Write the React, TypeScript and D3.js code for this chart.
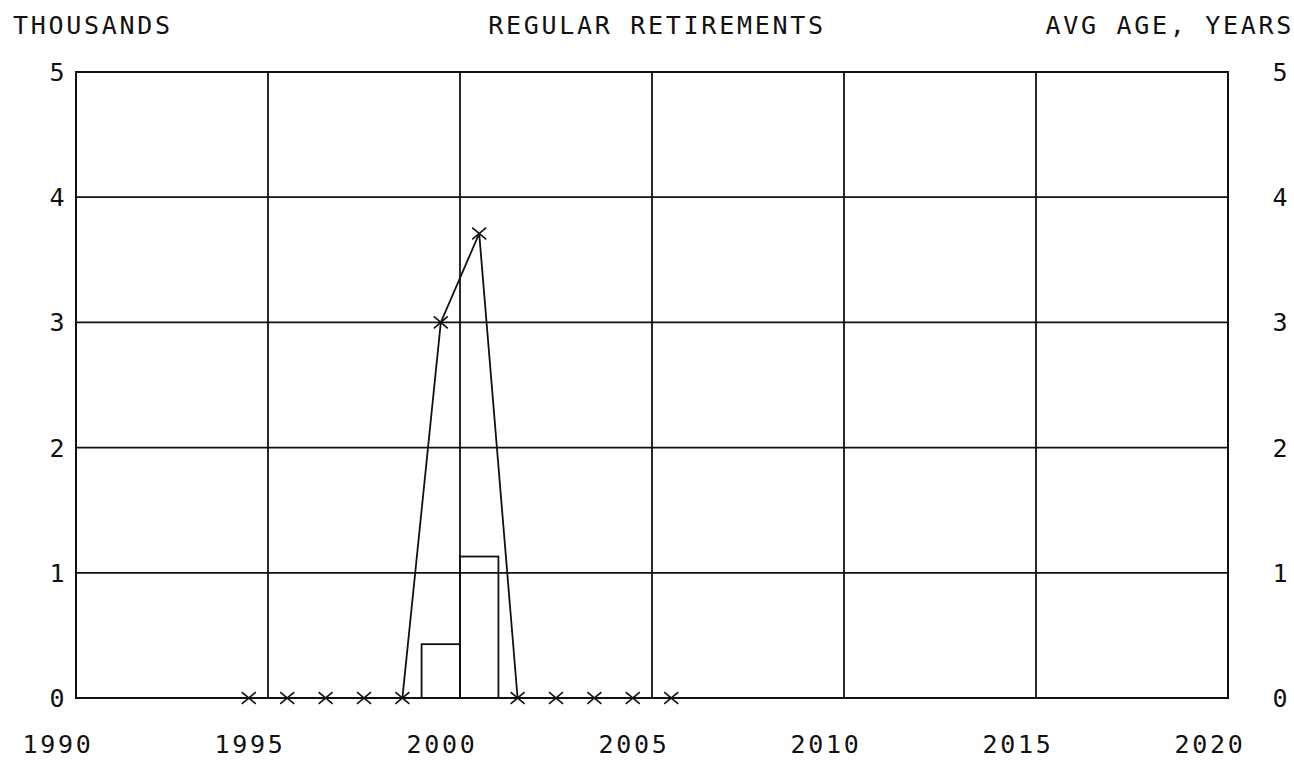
import React, { useEffect, useRef } from 'react';
import * as d3 from 'd3';

const years = [1995, 1996, 1997, 1998, 1999, 2000, 2001, 2002, 2003, 2004, 2005, 2006];
// thousands of regular retirements (bars)
const retirements = [0, 0, 0, 0, 0, 0.43, 1.13, 0, 0, 0, 0, 0];
// line with x markers
const avgAge = [0, 0, 0, 0, 0, 3.0, 3.71, 0, 0, 0, 0, 0];
const xTickLabels = [1990, 1995, 2000, 2005, 2010, 2015, 2020];
const yTickLabels = [0, 1, 2, 3, 4, 5];
const xGridYears = [1995.5, 2000.5, 2005.5, 2010.5, 2015.5];

const W = 1294;
const H = 760;
const margin = { left: 76, right: 66, top: 72, bottom: 62 };

const FONT = '"DejaVu Sans Mono", monospace';

export default function App() {
  const svgRef = useRef<SVGSVGElement>(null);

  useEffect(() => {
    if (svgRef.current === null) {
      return;
    }
    const svg = d3.select(svgRef.current);
    svg.selectAll('*').remove();

    const x = d3.scaleLinear().domain([1990.5, 2020.5]).range([margin.left, W - margin.right]);
    const y = d3.scaleLinear().domain([0, 5]).range([H - margin.bottom, margin.top]);

    svg.append('rect').attr('width', W).attr('height', H).attr('fill', '#fff');

    const txt = (sel: any) =>
      sel
        .attr('font-family', FONT)
        .attr('font-size', 25)
        .attr('letter-spacing', 2.7)
        .attr('fill', '#111');

    // titles
    svg.append('text').attr('x', 13).attr('y', 34).text('THOUSANDS').call(txt);
    svg.append('text').attr('x', 657).attr('y', 34).attr('text-anchor', 'middle').text('REGULAR RETIREMENTS').call(txt);
    svg.append('text').attr('x', 1294).attr('y', 34).attr('text-anchor', 'end').text('AVG AGE, YEARS').call(txt);

    // grid
    const grid = svg.append('g').attr('stroke', '#111').attr('stroke-width', 1.8);
    grid
      .selectAll('line.h')
      .data(yTickLabels.slice(1, -1))
      .join('line')
      .attr('x1', x.range()[0])
      .attr('x2', x.range()[1])
      .attr('y1', (d) => y(d))
      .attr('y2', (d) => y(d));
    grid
      .selectAll('line.v')
      .data(xGridYears)
      .join('line')
      .attr('x1', (d) => x(d))
      .attr('x2', (d) => x(d))
      .attr('y1', y(0))
      .attr('y2', y(5));

    // bars
    const bars = years.map((yr, i) => ({ yr, v: retirements[i] })).filter((d) => d.v > 0);
    svg
      .append('g')
      .selectAll('rect')
      .data(bars)
      .join('rect')
      .attr('x', (d) => x(d.yr - 0.5))
      .attr('width', (d) => x(d.yr + 0.5) - x(d.yr - 0.5))
      .attr('y', (d) => y(d.v))
      .attr('height', (d) => y(0) - y(d.v))
      .attr('fill', 'none')
      .attr('stroke', '#111')
      .attr('stroke-width', 1.8);

    // frame
    svg
      .append('rect')
      .attr('x', x.range()[0])
      .attr('y', y(5))
      .attr('width', x.range()[1] - x.range()[0])
      .attr('height', y(0) - y(5))
      .attr('fill', 'none')
      .attr('stroke', '#111')
      .attr('stroke-width', 2);

    // line + markers
    const pts = years.map((yr, i) => [yr, avgAge[i]] as [number, number]);
    const line = d3
      .line<[number, number]>()
      .x((d) => x(d[0]))
      .y((d) => y(d[1]));
    svg
      .append('path')
      .attr('d', line(pts))
      .attr('fill', 'none')
      .attr('stroke', '#111')
      .attr('stroke-width', 1.8);

    const s = 7;
    svg
      .append('g')
      .selectAll('path')
      .data(pts)
      .join('path')
      .attr('d', (d) => {
        const cx = x(d[0]);
        const cy = y(d[1]);
        return `M${cx - s},${cy - s * 0.85}L${cx + s},${cy + s * 0.85}M${cx - s},${cy + s * 0.85}L${cx + s},${cy - s * 0.85}`;
      })
      .attr('stroke', '#111')
      .attr('stroke-width', 1.6);

    // y tick labels
    svg
      .append('g')
      .selectAll('text')
      .data(yTickLabels)
      .join('text')
      .attr('x', 57)
      .attr('y', (d) => y(d) + 9)
      .attr('text-anchor', 'middle')
      .text((d) => String(d))
      .call(txt)
      .attr('letter-spacing', 0);
    svg
      .append('g')
      .selectAll('text')
      .data(yTickLabels)
      .join('text')
      .attr('x', 1280)
      .attr('y', (d) => y(d) + 9)
      .attr('text-anchor', 'middle')
      .text((d) => String(d))
      .call(txt)
      .attr('letter-spacing', 0);

    // x tick labels
    svg
      .append('g')
      .selectAll('text')
      .data(xTickLabels)
      .join('text')
      .attr('x', (d) => x(d) + 1.3)
      .attr('y', 753)
      .attr('text-anchor', 'middle')
      .text((d) => String(d))
      .call(txt);
  }, []);

  return (
    <svg
      ref={svgRef}
      width={W}
      height={H}
      style={{ position: 'absolute', left: 0, top: 0, display: 'block' }}
    ></svg>
  );
}
